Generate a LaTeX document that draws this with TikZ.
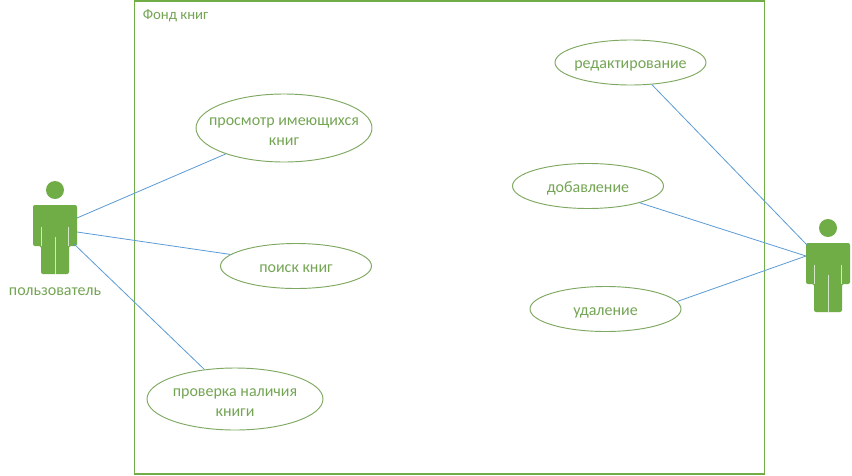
\documentclass[tikz,border=0pt]{standalone}
\usepackage{fontspec}
\setmainfont{Carlito}
\usetikzlibrary{shapes.geometric}
\definecolor{grn}{HTML}{70AD47}
\definecolor{edge}{HTML}{7FA860}
\definecolor{blu}{HTML}{5B9BD5}
\definecolor{txt}{HTML}{74A554}
\newcommand{\tallline}{\rule{0pt}{14.3pt}}
\tikzset{
  usecase/.style 2 args={draw=edge,line width=0.7pt,ellipse,inner xsep=-14pt,inner ysep=-8pt,minimum width=#1,minimum height=#2,align=center,text=txt,font=\fontsize{12pt}{15pt}\selectfont,execute at begin node={\rule{0pt}{12pt}},execute at end node={\rule[-3pt]{0pt}{3pt}}},
  frame/.style={draw=grn,line width=0.8pt},
  link/.style={draw=blu,line width=0.6pt},
  lbl/.style={text=txt,inner sep=0pt,font=\fontsize{12pt}{14pt}\selectfont},
  actorfill/.style={fill=grn,draw=none},
  slit/.style={draw=white!70!grn,line width=0.75pt}
}
\newcommand{\actor}[2]{%
  \begin{scope}[shift={(#1,#2)}]
    \fill[actorfill] (0,-15) circle (9);
    \fill[actorfill,rounded corners=1.5] (-22,0) -- (22,0) -- (22,41) -- (14,41) -- (14,69) -- (-14,69) -- (-14,41) -- (-22,41) -- cycle;
    \draw[slit] (-13.5,22) -- (-13.5,41);
    \draw[slit] (13.5,22) -- (13.5,41);
    \draw[slit] (0,32) -- (0,69);
  \end{scope}}
\begin{document}
\begin{tikzpicture}[x=0.75pt,y=-0.75pt]
\useasboundingbox (0,0) rectangle (852,475);
\fill[white] (0,0) rectangle (852,475);
\node[frame,minimum width=472pt,minimum height=354.75pt,inner sep=0pt] (fond) at (449.5,237.5) {};
\node[lbl,anchor=west,font=\fontsize{11.1pt}{14pt}\selectfont] (fl) at (142.5,16) {Фонд книг};
\actor{55}{205}
\actor{828}{243}
\coordinate (aL1) at (77,218);
\coordinate (aL2) at (77,232);
\coordinate (aL3) at (74,244);
\coordinate (aR1) at (807,245);
\coordinate (aR2) at (806,256);
\node[lbl] (ul) at (55,292) {пользователь};
\node[usecase={132pt}{51pt}] (e1) at (284,128) {\tallline просмотр имеющихся\\книг};
\node[usecase={113.25pt}{33.75pt}] (e2) at (296,266) {поиск книг};
\node[usecase={132pt}{46.5pt}] (e3) at (235,399) {\tallline проверка наличия\\книги};
\node[usecase={113.25pt}{33.75pt}] (e4) at (630.5,62.5) {редактирование};
\node[usecase={113.25pt}{33.75pt}] (e5) at (588,186) {добавление};
\node[usecase={113.25pt}{33.75pt}] (e6) at (605.5,309) {удаление};
\draw[link] (aL1) -- (e1.204);
\draw[link] (aL2) -- (e2.170);
\draw[link] (aL3) -- (e3.136);
\draw[link] (aR1) -- (e4.314);
\draw[link] (aR2) -- (e5.342);
\draw[link] (aR2) -- (e6.6);
\end{tikzpicture}
\end{document}
